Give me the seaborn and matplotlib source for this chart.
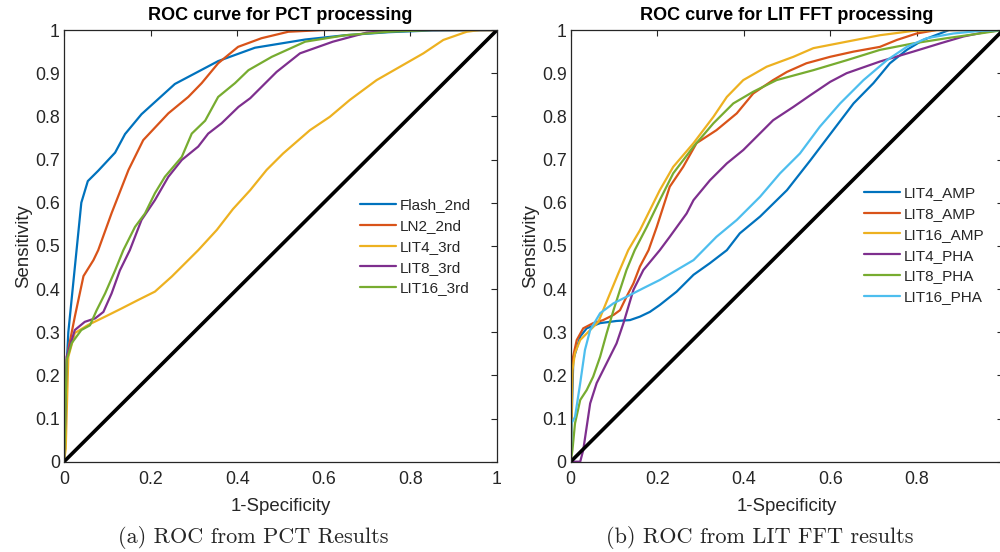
import matplotlib
matplotlib.use("Agg")
import matplotlib.pyplot as plt
import numpy as np
import pandas as pd
import seaborn as sns

# ---- data ----
# (a) PCT processing
flash_2nd_x = [0, 0.005, 0.01, 0.02, 0.03, 0.04, 0.055, 0.079, 0.118, 0.141, 0.179, 0.256, 0.356, 0.441, 0.557, 0.65, 0.75, 0.85, 1.0]
flash_2nd_y = [0, 0.20, 0.30, 0.40, 0.50, 0.60, 0.65, 0.674, 0.716, 0.759, 0.805, 0.875, 0.928, 0.959, 0.978, 0.988, 0.995, 0.999, 1.0]

ln2_2nd_x = [0, 0.004, 0.01, 0.025, 0.045, 0.068, 0.079, 0.11, 0.149, 0.183, 0.241, 0.287, 0.318, 0.356, 0.402, 0.456, 0.518, 0.6, 1.0]
ln2_2nd_y = [0, 0.15, 0.26, 0.336, 0.43, 0.467, 0.49, 0.576, 0.676, 0.745, 0.807, 0.845, 0.877, 0.923, 0.961, 0.981, 0.996, 1.0, 1.0]

lit4_3rd_x = [0, 0.004, 0.006, 0.01, 0.025, 0.056, 0.095, 0.133, 0.172, 0.21, 0.249, 0.272, 0.31, 0.353, 0.39, 0.43, 0.468, 0.506, 0.568, 0.614, 0.66, 0.722, 0.776, 0.83, 0.876, 0.93, 0.96, 1.0]
lit4_3rd_y = [0, 0.03, 0.104, 0.243, 0.298, 0.317, 0.336, 0.355, 0.375, 0.394, 0.429, 0.452, 0.49, 0.537, 0.585, 0.629, 0.676, 0.714, 0.768, 0.799, 0.838, 0.884, 0.915, 0.946, 0.977, 0.996, 1.0, 1.0]

lit8_3rd_x = [0, 0.003, 0.006, 0.025, 0.048, 0.072, 0.091, 0.11, 0.129, 0.152, 0.179, 0.21, 0.241, 0.272, 0.31, 0.333, 0.364, 0.403, 0.43, 0.491, 0.545, 0.621, 0.699, 0.776, 1.0]
lit8_3rd_y = [0, 0.1, 0.243, 0.305, 0.324, 0.332, 0.347, 0.39, 0.443, 0.49, 0.56, 0.606, 0.66, 0.699, 0.73, 0.76, 0.784, 0.822, 0.842, 0.903, 0.946, 0.973, 0.994, 1.0, 1.0]

lit16_3rd_x = [0, 0.002, 0.006, 0.018, 0.04, 0.06, 0.075, 0.095, 0.118, 0.137, 0.164, 0.187, 0.21, 0.233, 0.272, 0.295, 0.326, 0.356, 0.395, 0.426, 0.48, 0.557, 0.65, 0.75, 0.85, 1.0]
lit16_3rd_y = [0, 0.05, 0.235, 0.275, 0.305, 0.316, 0.35, 0.39, 0.443, 0.49, 0.544, 0.575, 0.622, 0.66, 0.706, 0.76, 0.79, 0.845, 0.877, 0.907, 0.938, 0.973, 0.988, 0.996, 1.0, 1.0]

# (b) LIT FFT processing
lit4_amp_x = [0, 0.002, 0.006, 0.022, 0.037, 0.068, 0.106, 0.137, 0.16, 0.183, 0.206, 0.245, 0.284, 0.322, 0.361, 0.391, 0.438, 0.5, 0.554, 0.607, 0.654, 0.7, 0.738, 0.777, 0.815, 0.854, 0.875, 1.0]
lit4_amp_y = [0, 0.089, 0.236, 0.29, 0.309, 0.321, 0.326, 0.328, 0.336, 0.347, 0.363, 0.394, 0.433, 0.46, 0.49, 0.529, 0.568, 0.629, 0.698, 0.768, 0.83, 0.877, 0.923, 0.954, 0.977, 0.992, 1.0, 1.0]

lit8_amp_x = [0, 0.004, 0.014, 0.029, 0.052, 0.075, 0.099, 0.114, 0.129, 0.145, 0.16, 0.18, 0.199, 0.229, 0.26, 0.291, 0.337, 0.384, 0.422, 0.468, 0.5, 0.545, 0.6, 0.654, 0.715, 0.754, 0.8, 0.846, 1.0]
lit8_amp_y = [0, 0.236, 0.282, 0.309, 0.321, 0.328, 0.34, 0.351, 0.382, 0.413, 0.452, 0.49, 0.544, 0.637, 0.683, 0.738, 0.768, 0.807, 0.853, 0.884, 0.903, 0.923, 0.938, 0.95, 0.961, 0.977, 0.992, 1.0, 1.0]

lit16_amp_x = [0, 0.002, 0.004, 0.01, 0.022, 0.045, 0.064, 0.075, 0.091, 0.11, 0.133, 0.16, 0.206, 0.237, 0.284, 0.33, 0.361, 0.399, 0.453, 0.515, 0.561, 0.638, 0.715, 0.792, 0.85, 1.0]
lit16_amp_y = [0, 0.1, 0.212, 0.252, 0.282, 0.305, 0.324, 0.351, 0.39, 0.436, 0.49, 0.536, 0.629, 0.683, 0.738, 0.799, 0.845, 0.884, 0.915, 0.938, 0.958, 0.973, 0.988, 0.998, 1.0, 1.0]

lit4_pha_x = [0, 0.006, 0.022, 0.029, 0.045, 0.06, 0.083, 0.106, 0.122, 0.145, 0.168, 0.206, 0.229, 0.268, 0.284, 0.322, 0.361, 0.399, 0.438, 0.468, 0.515, 0.554, 0.6, 0.638, 0.715, 0.792, 0.854, 0.908, 0.962, 1.0]
lit4_pha_y = [0, 0.0, 0.0, 0.027, 0.135, 0.182, 0.228, 0.274, 0.321, 0.398, 0.444, 0.49, 0.521, 0.575, 0.606, 0.652, 0.691, 0.722, 0.761, 0.791, 0.822, 0.849, 0.88, 0.9, 0.927, 0.95, 0.969, 0.985, 0.996, 1.0]

lit8_pha_x = [0, 0.004, 0.01, 0.022, 0.037, 0.052, 0.068, 0.083, 0.099, 0.114, 0.129, 0.148, 0.176, 0.206, 0.237, 0.284, 0.33, 0.376, 0.422, 0.476, 0.561, 0.638, 0.715, 0.792, 0.869, 0.946, 1.0]
lit8_pha_y = [0, 0.027, 0.089, 0.143, 0.166, 0.197, 0.243, 0.297, 0.351, 0.398, 0.444, 0.49, 0.544, 0.606, 0.668, 0.73, 0.784, 0.83, 0.857, 0.884, 0.907, 0.93, 0.954, 0.969, 0.981, 0.992, 1.0]

lit16_pha_x = [0, 0.002, 0.01, 0.022, 0.033, 0.045, 0.068, 0.099, 0.129, 0.168, 0.206, 0.245, 0.284, 0.337, 0.384, 0.438, 0.484, 0.53, 0.576, 0.623, 0.677, 0.731, 0.777, 0.823, 0.885, 0.946, 1.0]
lit16_pha_y = [0, 0.089, 0.104, 0.182, 0.259, 0.305, 0.344, 0.367, 0.382, 0.402, 0.421, 0.444, 0.467, 0.521, 0.56, 0.614, 0.668, 0.714, 0.776, 0.83, 0.884, 0.93, 0.961, 0.981, 0.992, 0.998, 1.0]

pct_labels = ["Flash_2nd", "LN2_2nd", "LIT4_3rd", "LIT8_3rd", "LIT16_3rd"]
fft_labels = ["LIT4_AMP", "LIT8_AMP", "LIT16_AMP", "LIT4_PHA", "LIT8_PHA", "LIT16_PHA"]
matlab_colors = ["#0072BD", "#D95319", "#EDB120", "#7E2F8E", "#77AC30", "#4DBEEE"]

pct_series = [(flash_2nd_x, flash_2nd_y), (ln2_2nd_x, ln2_2nd_y), (lit4_3rd_x, lit4_3rd_y),
              (lit8_3rd_x, lit8_3rd_y), (lit16_3rd_x, lit16_3rd_y)]
fft_series = [(lit4_amp_x, lit4_amp_y), (lit8_amp_x, lit8_amp_y), (lit16_amp_x, lit16_amp_y),
              (lit4_pha_x, lit4_pha_y), (lit8_pha_x, lit8_pha_y), (lit16_pha_x, lit16_pha_y)]
diag = [0, 1]

sns.set_style("white")
plt.rcParams["font.family"] = ["Liberation Sans", "DejaVu Sans"]
TXT = "#262626"


def to_frame(series, labels):
    frames = []
    for (xs, ys), lab in zip(series, labels):
        frames.append(pd.DataFrame({"fpr": xs, "tpr": ys, "name": lab}))
    return pd.concat(frames, ignore_index=True)


def draw_panel(ax, series, labels, title, leg_anchor):
    df = to_frame(series, labels)
    sns.lineplot(data=df, x="fpr", y="tpr", hue="name", hue_order=labels,
                 palette=matlab_colors[:len(labels)], estimator=None, sort=False,
                 linewidth=1.6, ax=ax)
    sns.lineplot(x=diag, y=diag, color="black", linewidth=2.6, ax=ax, legend=False)
    ax.set_xlim(0, 1)
    ax.set_ylim(0, 1)
    ax.set_xticks(np.arange(0, 1.01, 0.2))
    ax.set_yticks(np.arange(0, 1.01, 0.1))
    ax.set_xticklabels(["0", "0.2", "0.4", "0.6", "0.8", "1"])
    ax.set_yticklabels(["0", "0.1", "0.2", "0.3", "0.4", "0.5", "0.6", "0.7", "0.8", "0.9", "1"])
    ax.tick_params(direction="in", top=True, right=True, length=4, width=0.8,
                   labelsize=12.8, colors=TXT)
    ax.tick_params(axis="x", pad=7)
    ax.tick_params(axis="y", pad=3)
    for sp in ax.spines.values():
        sp.set_color(TXT)
        sp.set_linewidth(0.9)
    ax.set_xlabel("1-Specificity", fontsize=13.4, color=TXT, labelpad=7)
    ax.set_ylabel("Sensitivity", fontsize=13.4, color=TXT, labelpad=2)
    ax.set_title(title, fontsize=13, fontweight="bold", color="black", pad=7)
    ax.legend(loc="upper left", bbox_to_anchor=leg_anchor, frameon=False,
              fontsize=11, handlelength=2.35, handletextpad=0.25,
              labelspacing=0.44, borderaxespad=0)


fig = plt.figure(figsize=(10, 5.52), dpi=100)
ax1 = fig.add_axes([0.064, 0.1636, 0.433, 0.782])
ax2 = fig.add_axes([0.5707, 0.1636, 0.4325, 0.782])

draw_panel(ax1, pct_series, pct_labels, "ROC curve for PCT processing", (0.67, 0.624))
draw_panel(ax2, fft_series, fft_labels, "ROC curve for LIT FFT processing", (0.665, 0.652))

fig.text(0.2535, 0.027, "(a) ROC from PCT Results", ha="center", va="center",
         fontsize=16, family="cmr10")
fig.text(0.760, 0.027, "(b) ROC from LIT FFT results", ha="center", va="center",
         fontsize=16, family="cmr10")

fig.savefig("out.png", dpi=100)
